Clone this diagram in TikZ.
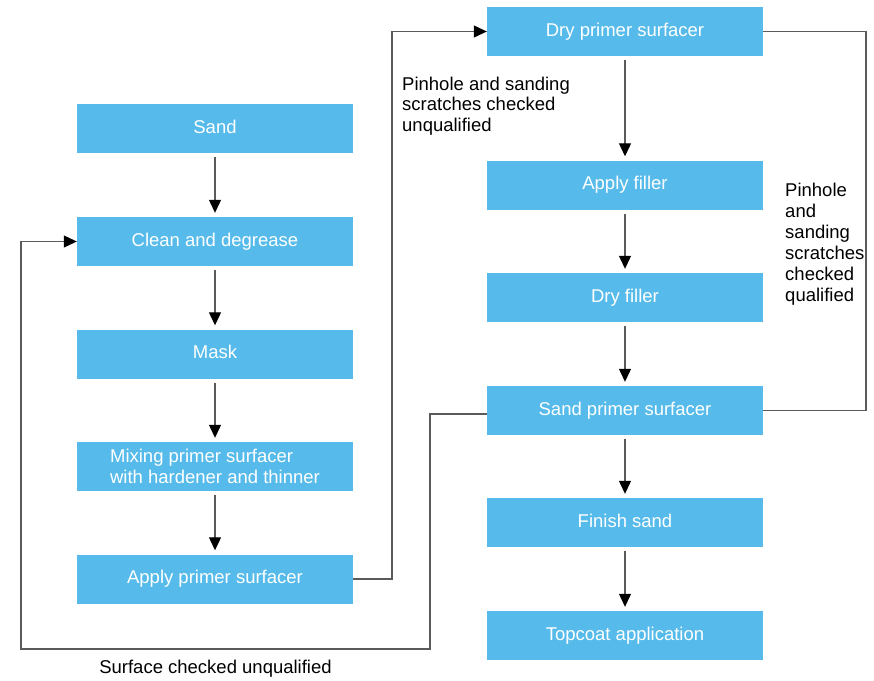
\documentclass[tikz,border=0pt]{standalone}
\usepackage{fontspec}
\setmainfont{Liberation Sans}
\usetikzlibrary{arrows.meta}
\definecolor{stepblue}{RGB}{86,187,234}
\definecolor{wire}{RGB}{90,90,90}
\begin{document}
\begin{tikzpicture}[x=1pt,y=-1pt,
  font=\fontsize{18.5}{20.7}\selectfont,
  stepbox/.style={fill=stepblue,text=white,minimum width=276pt,minimum height=49pt,inner sep=0pt},
  oneline/.style={text height=13.3pt,text depth=3.9pt},
  wireline/.style={draw=wire,line width=1.1pt},
  tip/.style={-{Triangle[width=12pt,length=13pt,color=black]}},
  flow/.style={wireline,tip,shorten <=4pt,shorten >=4pt},
  note/.style={align=left,inner sep=0pt}]
\useasboundingbox (0,0) rectangle (874,680);

% left column
\node[stepbox,oneline] (sand)  at (215,128.5) {Sand};
\node[stepbox,oneline] (clean) at (215,241.5) {Clean and degrease};
\node[stepbox,oneline] (mask)  at (215,354)   {Mask};
\node[stepbox,align=left] (mix) at (215,466.5) {Mixing primer surfacer\\with hardener and thinner};
\node[stepbox,oneline] (applyp) at (215,579)  {Apply primer surfacer};

% right column
\node[stepbox,oneline] (dryp)   at (625,31.5)  {Dry primer surfacer};
\node[stepbox,oneline] (fill)   at (625,185)   {Apply filler};
\node[stepbox,oneline] (dryf)   at (625,297.5) {Dry filler};
\node[stepbox,oneline] (sandp)  at (625,410.5) {Sand primer surfacer};
\node[stepbox,oneline] (finish) at (625,522.5) {Finish sand};
\node[stepbox,oneline] (top)    at (625,635.5) {Topcoat application};

% main flow
\draw[flow] (sand) -- (clean);
\draw[flow] (clean) -- (mask);
\draw[flow] (mask) -- (mix);
\draw[flow] (mix) -- (applyp);
\draw[flow] (dryp) -- (fill);
\draw[flow] (fill) -- (dryf);
\draw[flow] (dryf) -- (sandp);
\draw[flow] (sandp) -- (finish);
\draw[flow] (finish) -- (top);

% routing points of the loops
\coordinate (upx)   at (392,0);
\coordinate (rightx) at (866,0);
\coordinate (backx) at (430,0);
\coordinate (backy) at (0,649);
\coordinate (leftx) at (21,0);

% primer applied -> dry primer
\draw[wireline,tip] (applyp.east) -- (applyp.east -| upx) |- (dryp.west);
% qualified: dry primer -> sand primer
\draw[wireline] (dryp.east) -| (rightx |- sandp.east) -- (sandp.east);
% surface unqualified: back to cleaning
\draw[wireline,tip] ([yshift=-3.5pt]sandp.west) -- ([yshift=-3.5pt]sandp.west -| backx)
  -- (backx |- backy) -- (leftx |- backy) |- (clean.west);

% labels
\node[note,anchor=north west] (n1) at (402,76.5)
  {Pinhole and sanding\\scratches checked\\unqualified};
\node[note,anchor=north west,font=\fontsize{18.5}{21}\selectfont] (n2) at (785,182.5)
  {Pinhole\\and\\sanding\\scratches\\checked\\qualified};
\node[inner sep=0pt,anchor=base] (n3) at (215.5,673) {Surface checked unqualified};
\end{tikzpicture}
\end{document}
